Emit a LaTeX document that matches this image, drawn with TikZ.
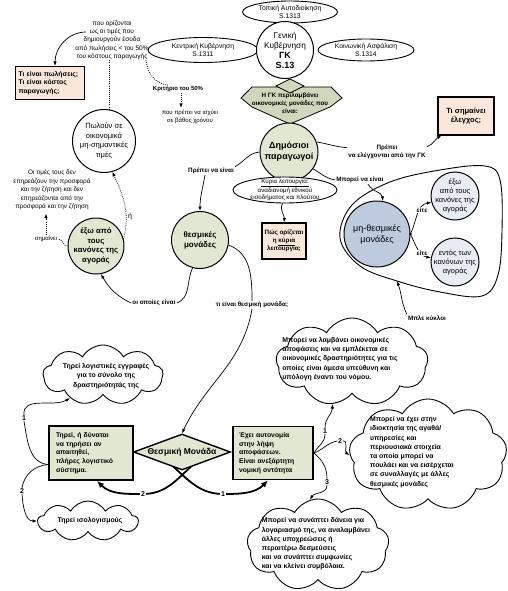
\documentclass[tikz,border=0pt]{standalone}
\usepackage{fontspec}
\setmainfont{Liberation Sans}
\usetikzlibrary{shapes.geometric,shapes.symbols,arrows.meta,backgrounds}
\definecolor{grn}{RGB}{226,231,210}
\definecolor{chev}{RGB}{208,216,188}
\definecolor{salm}{RGB}{252,232,218}
\definecolor{blu}{RGB}{190,202,222}
\definecolor{lblu}{RGB}{232,237,245}
\tikzset{
  tip/.style={-{Latex[length=4.5pt,width=3.4pt]}},
  btip/.style={-{Latex[length=7pt,width=6pt]}},
  conn/.style={line width=0.7pt},
  dconn/.style={line width=0.8pt, dash pattern=on 0.8pt off 1.3pt},
  bconn/.style={line width=1.8pt},
  lbl/.style={font=\fontsize{6.3}{8.2}\selectfont\bfseries, inner sep=1pt, fill=white},
  numl/.style={font=\fontsize{7}{8}\selectfont\bfseries, inner sep=0.6pt, fill=white},
  circ/.style={circle, draw, line width=1pt, inner sep=-8pt, align=center},
  ell/.style={ellipse, draw, line width=0.9pt, fill=white, inner sep=-6pt, align=center},
  qbox/.style={rectangle, draw, line width=1.1pt, fill=salm, align=center, inner sep=0pt},
  gbox/.style={rectangle, draw, line width=1.8pt, fill=grn, inner sep=0pt, align=left},
  cld/.style={cloud, draw, line width=0.9pt, cloud puffs=9, cloud puff arc=120, cloud ignores aspect, inner sep=0pt, fill=white},
  ctext/.style={font=\fontsize{6.9}{9.2}\selectfont\bfseries, align=left, inner sep=0pt},
}
\begin{document}
\begin{tikzpicture}[x=1pt,y=1pt]
\useasboundingbox (0,0) rectangle (508,-591);
% ---------- top: general government ----------
\node[ell, minimum width=95, minimum height=22, font=\fontsize{6.8}{7.8}\selectfont] (tl) at (290,-12) {Τοπική Αυτοδιοίκηση\\S.1313};
\node[ell, minimum width=110, minimum height=25, font=\fontsize{6.8}{7.8}\selectfont] (kk) at (203,-50) {Κεντρική Κυβέρνηση\\S.1311};
\node[ell, minimum width=96, minimum height=22, font=\fontsize{6.8}{7.8}\selectfont] (ka) at (366,-50) {Κοινωνική Ασφάλιση\\S.1314};
\node[circ, fill=white, minimum size=57, font=\fontsize{8.3}{10}\selectfont] (gk) at (285,-50) {Γενική\\Κυβέρνηση\\{\bfseries\fontsize{9}{10}\selectfont ΓΚ}\\{\bfseries\fontsize{9}{10}\selectfont S.13}};
\draw[line width=0.8pt, fill=chev] (241,-98) -- (252,-87) -- (331,-87) -- (342,-98) -- (330,-107) -- (290,-124) -- (252,-107) -- cycle;
\draw[line width=0.8pt, fill=chev] (276,-86) -- (290,-79) -- (304,-86) -- (290,-93) -- cycle;
\node[font=\fontsize{6.3}{8.3}\selectfont\bfseries, align=center, inner sep=0pt] (ch) at (290,-103) {Η ΓΚ περιλαμβάνει\\οικονομικές μονάδες που\\είναι:};
% ---------- public producers ----------
\node[circ, fill=grn, minimum size=58, font=\fontsize{9}{11}\selectfont\bfseries] (dp) at (289,-152) {Δημόσιοι\\παραγωγοί};
\node[ell, minimum width=104, minimum height=26, font=\fontsize{6.2}{7.6}\selectfont] (ky) at (285,-190) {\underline{Κύρια λειτουργία:}\\αναδιανομή εθνικού\\εισοδήματος και πλούτου};
\node[qbox, minimum width=44, minimum height=36, font=\fontsize{6.3}{8.3}\selectfont\bfseries] (pw) at (284,-241) {Πώς ορίζεται\\η \underline{κύρια}\\λειτουργία;};
\draw[conn,tip] (ky.-100) to[out=-120,in=85] (pw.north);
\node[qbox, minimum width=56, minimum height=38, font=\fontsize{7.5}{9.5}\selectfont\bfseries] (tse) at (466,-116) {Τι σημαίνει\\έλεγχος;};
\node[lbl, align=center] (ple) at (387,-152) {Πρέπει\\να ελέγχονται από την ΓΚ};
\draw[conn] (dp.20) to[out=-10,in=175] ([yshift=-4pt]ple.north west);
\draw[conn,tip] ([yshift=-3pt]ple.north east) to[out=20,in=-150] ([xshift=4pt]tse.south west);
% ---------- non-institutional units ----------
\node[lbl] (mne) at (360,-180) {Μπορεί να είναι};
\node[circ, fill=blu, minimum size=66, font=\fontsize{9}{11}\selectfont] (mt) at (377,-234) {μη-θεσμικές\\μονάδες};
\node[circ, fill=lblu, minimum size=48, font=\fontsize{7.5}{9}\selectfont] (ex2) at (455,-196) {έξω\\από τους\\κανόνες της\\αγοράς};
\node[circ, fill=lblu, minimum size=48, font=\fontsize{7.5}{9}\selectfont] (en) at (455,-262) {εντός των\\κανόνων της\\αγοράς};
\draw[conn] (dp.-35) to[out=-30,in=170] (mne.west);
\draw[conn,tip] ([xshift=8pt]mne.south) to[out=-60,in=95] (mt.80);
\draw[conn,tip] (mt.east) to[out=65,in=190] (ex2.195);
\draw[conn,tip] (mt.east) to[out=-65,in=170] (en.170);
\fill (mt.east) circle (1.4pt);
\node[lbl] (e1) at (422,-210) {είτε};
\node[lbl] (e2) at (422,-253) {είτε};
\draw[line width=0.9pt] plot[smooth cycle, tension=0.6] coordinates {(340,-238) (352,-205) (390,-182) (440,-170) (485,-166) (500,-180) (502,-230) (498,-275) (482,-296) (440,-292) (397,-281) (360,-266)};
\coordinate (lp) at (397,-281);
\node[lbl] (mk) at (427,-318) {Μπλε κύκλοι};
\draw[conn,tip] (mk.north west) to[out=115,in=-70] (lp);
% ---------- left upper part ----------
\node[font=\fontsize{6.5}{8.3}\selectfont, align=center, inner sep=0pt] (po) at (112,-40) {που ορίζονται\\ως οι τιμές που\\δημιουργούν έσοδα\\από πωλήσεις < του 50\%\\του κόστους παραγωγής};
\node[qbox, minimum width=69, minimum height=33, align=left, text width=63, font=\fontsize{6.8}{8.8}\selectfont\bfseries] (tp) at (50,-83) {Τι είναι πωλήσεις;\\Τι είναι κόστος\\παραγωγής;};
\node[font=\fontsize{6}{7}\selectfont\bfseries, inner sep=1pt] (kr) at (178,-89) {Κριτήριο του 50\%};
\node[font=\fontsize{6}{8}\selectfont, align=center, inner sep=0pt] (pp) at (190,-117) {που πρέπει να ισχύει\\σε βάθος χρόνου};
\node[circ, fill=white, minimum size=63, font=\fontsize{7.6}{9.6}\selectfont] (pwl) at (104,-141) {Πωλούν σε\\οικονομικά\\μη-σημαντικές\\τιμές};
\node[font=\fontsize{6.4}{8.6}\selectfont, align=center, inner sep=0pt] (ot) at (52,-190) {Οι τιμές τους δεν\\επηρεάζουν την προσφορά\\και την ζήτηση και δεν\\επηρεάζονται από την\\προσφορά και την ζήτηση};
\node[circ, fill=grn, minimum size=56, font=\fontsize{7.8}{9.4}\selectfont\bfseries] (ex) at (96,-246) {έξω από\\τους\\κανόνες της\\αγοράς};
\node[font=\fontsize{6}{7}\selectfont, inner sep=1pt] (sm) at (46,-239) {σημαίνει};
\coordinate (poa) at (86,-32);
\draw[conn,tip] (poa) to[out=180,in=90] ([xshift=5pt]tp.north);
\draw[dconn] (pwl.80) -- (pwl.80 |- po.south);
\draw[dconn] ([xshift=34pt]po.south) to[out=-85,in=175] ([xshift=-10pt]kr.north);
\coordinate (kra) at ([xshift=3pt]kr.south);
\draw[dconn,tip,shorten >=2pt] (kra) -- (kra |- pp.north);
\draw[dconn,tip] (ex.15) to[out=75,in=-65] (pwl.-75);
\node[font=\fontsize{7}{8}\selectfont, inner sep=1pt, fill=white] (eta) at (130,-217) {ή};
\draw[dconn] (ex.west) to[out=180,in=-5] (sm.east);
\draw[dconn,tip,shorten >=3pt] (sm.north) -- (sm.north |- ot.south);
% ---------- institutional units ----------
\node[circ, fill=grn, minimum size=57, font=\fontsize{8}{10}\selectfont\bfseries] (th) at (200,-240) {θεσμικές\\μονάδες};
\node[lbl] (pn) at (211,-171) {Πρέπει να είναι};
\node[lbl] (oo) at (154,-303) {οι οποίες είναι};
\node[lbl] (te) at (252,-305) {τι είναι θεσμική μονάδα;};
\draw[conn] (dp.west) to[out=185,in=30] (pn.north east);
\draw[conn,tip] ([xshift=-6pt]pn.south) to[out=-100,in=90] (th.north);
\draw[conn] (th.-105) to[out=-115,in=20] (oo.east);
\draw[conn,tip] (oo.west) to[out=155,in=-60] (ex.-80);
\draw[conn] (th.-10) to[out=-20,in=90] (te.north);
% ---------- bottom ----------
\node[cld, minimum width=120, minimum height=60] (c1) at (103,-375) {};
\node[ctext, align=center] (c1t) at (106,-376) {Τηρεί λογιστικές εγγραφές\\για το σύνολο της\\δραστηριότητάς της};
\node[cld, minimum width=152, minimum height=88] (c2) at (352,-362) {};
\node[ctext] (c2t) at (340,-359) {Μπορεί να λαμβάνει οικονομικές\\αποφάσεις και να εμπλέκεται σε\\οικονομικές δραστηριότητες για τις\\οποίες είναι άμεσα υπεύθυνη και\\υπόλογη έναντι του νόμου.};
\node[diamond, draw, line width=1.4pt, fill=grn, aspect=2.7, minimum width=97, minimum height=36, inner sep=0pt, font=\fontsize{8.5}{10}\selectfont\bfseries] (dm) at (182,-452) {Θεσμική Μονάδα};
\draw[conn,tip] (te.south) to[out=-100,in=65] (dm.north);
\node[gbox, minimum width=84, minimum height=54, text width=70, font=\fontsize{6.8}{8.6}\selectfont\bfseries] (lr) at (91,-453) {Τηρεί, ή δύναται\\να τηρήσει αν\\απαιτηθεί,\\πλήρες λογιστικό\\σύστημα.};
\node[gbox, minimum width=80, minimum height=53, text width=68, font=\fontsize{6.8}{8.6}\selectfont\bfseries] (rr) at (273,-453) {Έχει αυτονομία\\στην λήψη\\αποφάσεων.\\Είναι ανεξάρτητη\\νομική οντότητα};
\node[cld, minimum width=158, minimum height=112] (c3) at (428,-455) {};
\node[ctext] (c3t) at (412,-452) {Μπορεί να έχει στην\\ιδιοκτησία της αγαθά/\\υπηρεσίες και\\περιουσιακά στοιχεία\\τα οποία μπορεί να\\πουλάει και να εισέρχεται\\σε συναλλαγές με άλλες\\θεσμικές μονάδες};
\node[cld, minimum width=100, minimum height=40] (c4) at (88,-521) {};
\node[ctext] (c4t) at (90,-521) {Τηρεί ισολογισμούς};
\node[cld, minimum width=142, minimum height=92] (c5) at (318,-545) {};
\node[ctext] (c5t) at (316,-544) {Μπορεί να συνάπτει δάνεια για\\λογαριασμό της, να αναλαμβάνει\\άλλες υποχρεώσεις ή\\περαιτέρω δεσμεύσεις\\και να συνάπτει συμφωνίες\\και να κλείνει συμβόλαια.};
% crossing thick arrows
\node[numl] (n1) at (223,-494) {1};
\node[numl] (n2) at (143,-494) {2};
\begin{scope}[on background layer]
\draw[bconn] ([xshift=-22pt,yshift=-4pt]dm.center) to[out=-35,in=180] (n1.center);
\draw[bconn,btip] (n1.center) to[out=0,in=-135] ([xshift=-5pt]rr.south);
\draw[bconn] ([xshift=22pt,yshift=-4pt]dm.center) to[out=-145,in=0] (n2.center);
\draw[bconn,btip] (n2.center) to[out=180,in=-45] ([xshift=6pt]lr.south);
\end{scope}
% left rect connectors
\node[numl] (l1) at (24,-418) {1};
\node[numl] (l2) at (22,-491) {2};
\draw[conn] (lr.-165) to[out=175,in=-80] (l1.south);
\draw[conn,tip] (l1.north) to[out=95,in=-150] (c1.215);
\draw[conn] (lr.-165) to[out=185,in=80] (l2.north);
\draw[conn,tip] (l2.south) to[out=-85,in=180] (c4.west);
% right rect connectors
\node[numl] (r1) at (325,-431) {1};
\node[numl] (r2) at (340,-441) {2};
\node[numl] (r3) at (327,-482) {3};
\draw[conn] (rr.east) to[out=60,in=-90] (r1.south);
\draw[conn,tip] (r1.north) to[out=90,in=-90] (c2.245);
\draw[conn] (rr.east) to[out=20,in=190] (r2.west);
\draw[conn,tip] (r2.east) to[out=10,in=150] (c3.west);
\draw[conn] (rr.east) to[out=-40,in=90] (r3.north);
\draw[conn,tip] (r3.south) to[out=-90,in=60] (c5.100);
\end{tikzpicture}
\end{document}
